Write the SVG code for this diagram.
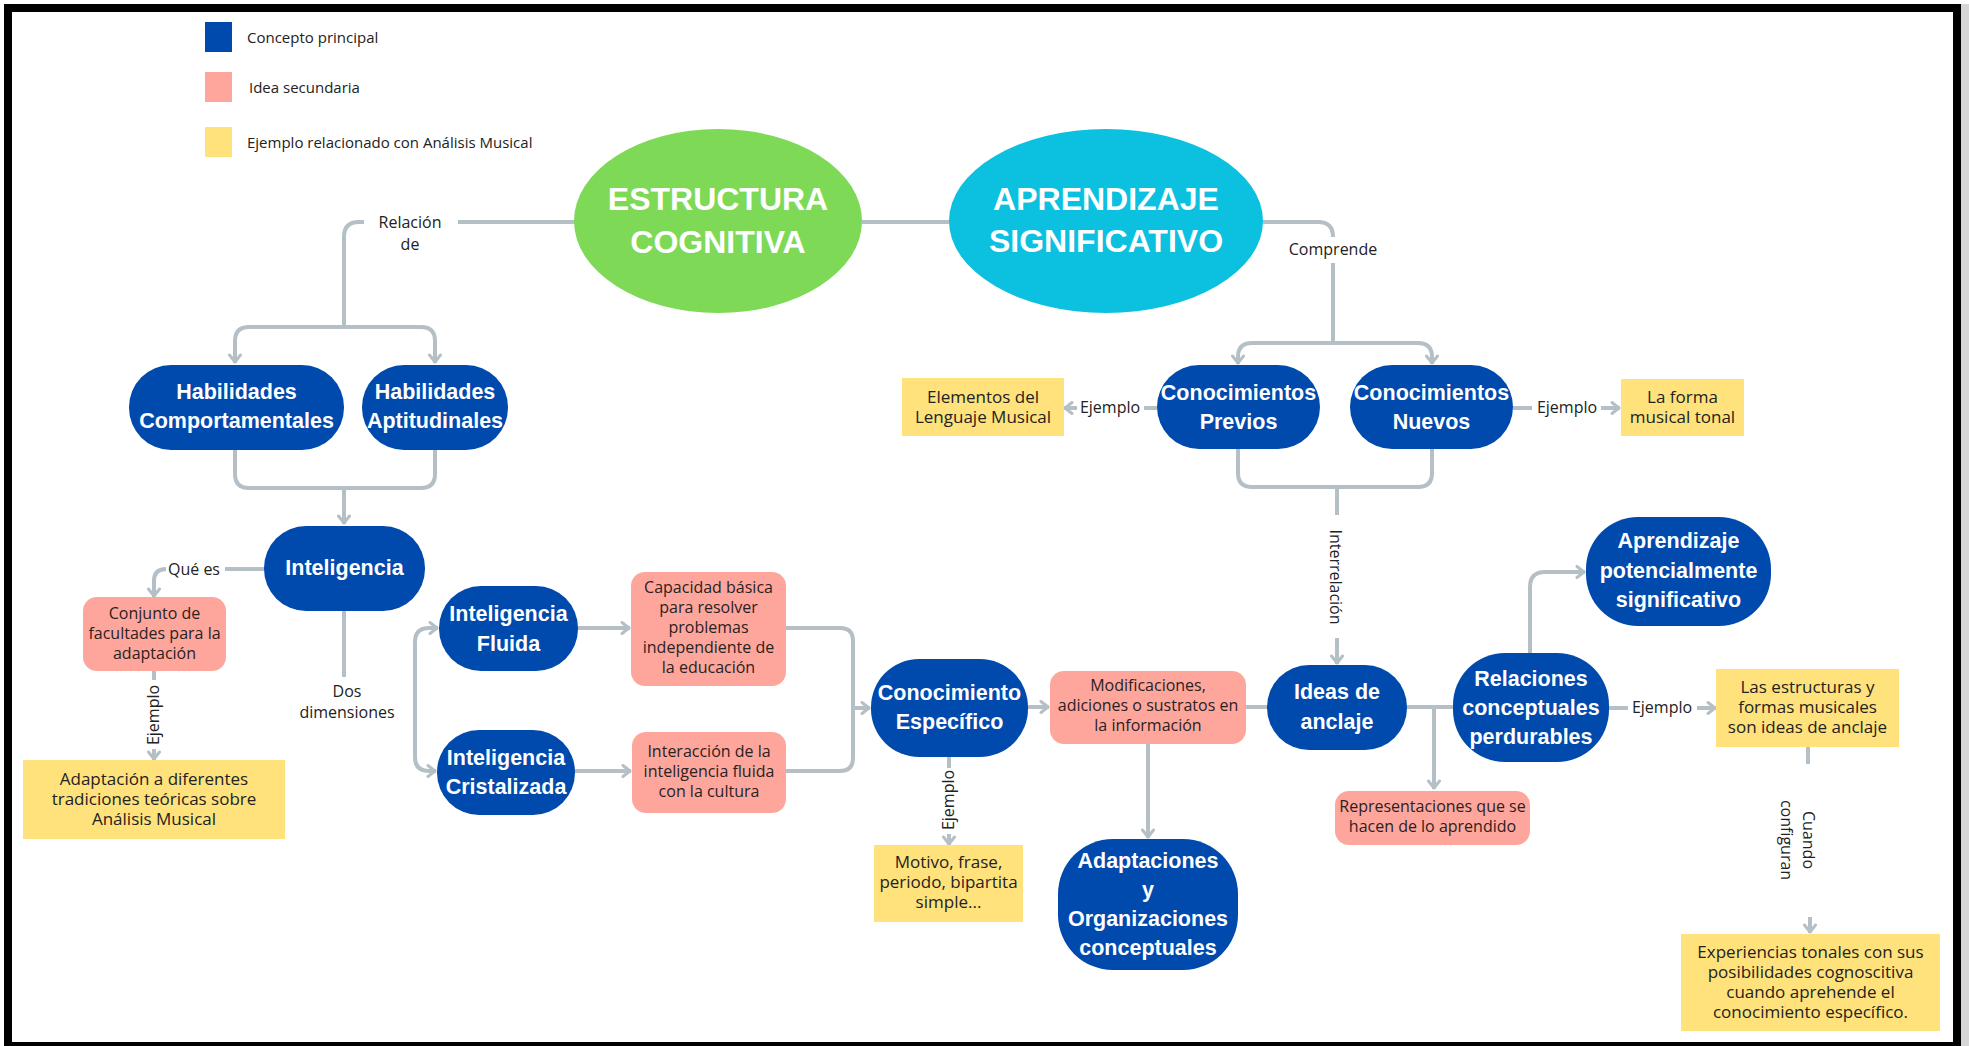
<svg xmlns="http://www.w3.org/2000/svg" width="1969" height="1046" viewBox="0 0 1969 1046">
  <defs>
    <style>
      .main { fill: #004AAD; }
      .sec { fill: #FFA69C; }
      .ex { fill: #FFE27B; }
      .nt { font-family: "Liberation Sans", Arial, sans-serif; font-weight: bold; font-size: 21.5px; fill: #FFFFFF; text-anchor: middle; }
      .big { font-family: "Liberation Sans", Arial, sans-serif; font-weight: bold; font-size: 32px; fill: #FFFFFF; text-anchor: middle; }
      .st { font-family: "Open Sans", "Noto Sans", sans-serif; font-size: 16px; fill: #2A2222; text-anchor: middle; }
      .et { font-family: "Open Sans", "Noto Sans", sans-serif; font-size: 17px; fill: #222222; text-anchor: middle; }
      .lbl { font-family: "Open Sans", "Noto Sans", sans-serif; font-size: 16px; fill: #222222; text-anchor: middle; }
      .leg { font-family: "Open Sans", "Noto Sans", sans-serif; font-size: 15px; fill: #222222; }
      .ln { fill: none; stroke: #B5C0C6; stroke-width: 4; }
      .ar { marker-end: url(#arr); }
    </style>
    <marker id="arr" viewBox="0 0 14 14" refX="12" refY="7" markerWidth="14" markerHeight="14" markerUnits="userSpaceOnUse" orient="auto">
      <path d="M4,1.5 L11,7 L4,12.5" fill="none" stroke="#B5C0C6" stroke-width="3" stroke-linecap="round" stroke-linejoin="round"/>
    </marker>
  </defs>

  <!-- page background and frame -->
  <rect x="0" y="0" width="1969" height="1046" fill="#FFFFFF"/>
  <rect x="1961" y="4" width="8" height="1042" fill="#D6D6D6"/>
  <rect x="8" y="8" width="1949" height="1038" fill="none" stroke="#000000" stroke-width="8"/>

  <!-- legend -->
  <g id="legend">
    <rect x="205" y="22" width="27" height="30" class="main"/>
    <text x="247" y="43" class="leg">Concepto principal</text>
    <rect x="205" y="72" width="27" height="30" class="sec"/>
    <text x="249" y="93" class="leg">Idea secundaria</text>
    <rect x="205" y="127" width="27" height="30" class="ex"/>
    <text x="247" y="148" class="leg">Ejemplo relacionado con Análisis Musical</text>
  </g>

  <!-- connectors -->
  <g id="connectors">
    <!-- Estructura cognitiva / Aprendizaje significativo -->
    <path class="ln" d="M862 222 H949"/>
    <path class="ln" d="M575 222 H458"/>
    <path class="ln" d="M364 222 H359 Q344 222 344 237 V327"/>
    <path class="ln ar" d="M344 327 H249 Q235 327 235 341 V363"/>
    <path class="ln ar" d="M344 327 H421 Q435 327 435 341 V363"/>
    <path class="ln" d="M235 450 V474 Q235 488 249 488 H421 Q435 488 435 474 V450"/>
    <path class="ln ar" d="M344 488 V524"/>

    <!-- Inteligencia -->
    <path class="ln" d="M264 569 H225"/>
    <path class="ln ar" d="M166 569 Q154 569 154 581 V597"/>
    <path class="ln" d="M154 671 V680"/>
    <path class="ln ar" d="M154 749 V760"/>
    <path class="ln" d="M344 611 V677"/>
    <path class="ln ar" d="M415 700 V642 Q415 628 429 628 H438"/>
    <path class="ln ar" d="M415 700 V757 Q415 771 429 771 H436"/>
    <path class="ln ar" d="M578 628 H630"/>
    <path class="ln ar" d="M575 771 H631"/>
    <path class="ln" d="M786 628 H840 Q853 628 853 641 V758 Q853 771 840 771 H786"/>
    <path class="ln ar" d="M853 708 H870"/>

    <!-- Conocimiento especifico -->
    <path class="ln" d="M949 757 V768"/>
    <path class="ln ar" d="M949 834 V845"/>
    <path class="ln ar" d="M1028 707 H1049"/>
    <path class="ln ar" d="M1148 744 V838"/>
    <path class="ln" d="M1246 707 H1268"/>

    <!-- Comprende -->
    <path class="ln" d="M1263 222 H1318 Q1333 222 1333 237"/>
    <path class="ln" d="M1333 263 V343"/>
    <path class="ln ar" d="M1333 343 H1252 Q1238 343 1238 357 V364"/>
    <path class="ln ar" d="M1333 343 H1418 Q1432 343 1432 357 V364"/>
    <path class="ln" d="M1157 408 H1144"/>
    <path class="ln ar" d="M1077 408 H1064"/>
    <path class="ln" d="M1513 408 H1532"/>
    <path class="ln ar" d="M1601 408 H1620"/>
    <path class="ln" d="M1238 449 V473 Q1238 487 1252 487 H1418 Q1432 487 1432 473 V449"/>
    <path class="ln" d="M1337 487 V515"/>
    <path class="ln ar" d="M1337 638 V664"/>

    <!-- Ideas de anclaje / Relaciones -->
    <path class="ln" d="M1407 707 H1454"/>
    <path class="ln ar" d="M1434 707 V789"/>
    <path class="ln ar" d="M1530 653 V587 Q1530 572 1545 572 H1585"/>
    <path class="ln" d="M1609 708 H1628"/>
    <path class="ln ar" d="M1697 708 H1716"/>
    <path class="ln" d="M1808 747 V764"/>
    <path class="ln ar" d="M1810 917 V933"/>
  </g>

  <!-- connector labels -->
  <g id="labels">
    <text x="410" y="228" class="lbl">Relación</text>
    <text x="410" y="250" class="lbl">de</text>
    <text x="1333" y="255" class="lbl">Comprende</text>
    <text x="194" y="575" class="lbl">Qué es</text>
    <text x="347" y="697" class="lbl">Dos</text>
    <text x="347" y="718" class="lbl">dimensiones</text>
    <text transform="translate(154,715) rotate(-90)" x="0" y="4.5" class="lbl">Ejemplo</text>
    <text transform="translate(949,800) rotate(-90)" x="0" y="4.5" class="lbl">Ejemplo</text>
    <text x="1110" y="413" class="lbl">Ejemplo</text>
    <text x="1567" y="413" class="lbl">Ejemplo</text>
    <text x="1662" y="713" class="lbl">Ejemplo</text>
    <text transform="translate(1337,577) rotate(90)" x="0" y="7" class="lbl">Interrelación</text>
    <text transform="translate(1792,840) rotate(90)" x="0" y="-11" class="lbl">Cuando</text>
    <text transform="translate(1792,840) rotate(90)" x="0" y="11" class="lbl">configuran</text>
  </g>

  <!-- nodes -->
  <g id="estructura-cognitiva">
    <ellipse cx="718" cy="221" rx="144" ry="92" fill="#7ED957"/>
    <text x="718" y="210" class="big">ESTRUCTURA</text>
    <text x="718" y="253" class="big">COGNITIVA</text>
  </g>
  <g id="aprendizaje-significativo">
    <ellipse cx="1106" cy="221" rx="157" ry="92" fill="#0CC0DF"/>
    <text x="1106" y="210" class="big">APRENDIZAJE</text>
    <text x="1106" y="252" class="big">SIGNIFICATIVO</text>
  </g>

  <g id="habilidades-comportamentales">
    <rect x="129" y="365" width="215" height="85" rx="42" class="main"/>
    <text x="236.5" y="399" class="nt">Habilidades</text>
    <text x="236.5" y="428" class="nt">Comportamentales</text>
  </g>
  <g id="habilidades-aptitudinales">
    <rect x="362" y="365" width="146" height="85" rx="42" class="main"/>
    <text x="435" y="399" class="nt">Habilidades</text>
    <text x="435" y="428" class="nt">Aptitudinales</text>
  </g>

  <g id="inteligencia">
    <rect x="264" y="526" width="161" height="85" rx="42" class="main"/>
    <text x="344.5" y="575" class="nt">Inteligencia</text>
  </g>
  <g id="conjunto-facultades">
    <rect x="83" y="597" width="143" height="74" rx="14" class="sec"/>
    <text x="154.5" y="619" class="st">Conjunto de</text>
    <text x="154.5" y="639" class="st">facultades para la</text>
    <text x="154.5" y="659" class="st">adaptación</text>
  </g>
  <g id="adaptacion-tradiciones">
    <rect x="23" y="760" width="262" height="79" class="ex"/>
    <text x="154" y="785" class="et">Adaptación a diferentes</text>
    <text x="154" y="805" class="et">tradiciones teóricas sobre</text>
    <text x="154" y="825" class="et">Análisis Musical</text>
  </g>

  <g id="inteligencia-fluida">
    <rect x="439" y="586" width="139" height="85" rx="42" class="main"/>
    <text x="508.5" y="621" class="nt">Inteligencia</text>
    <text x="508.5" y="651" class="nt">Fluida</text>
  </g>
  <g id="inteligencia-cristalizada">
    <rect x="437" y="730" width="138" height="85" rx="42" class="main"/>
    <text x="506" y="765" class="nt">Inteligencia</text>
    <text x="506" y="794" class="nt">Cristalizada</text>
  </g>
  <g id="capacidad-basica">
    <rect x="631" y="572" width="155" height="114" rx="14" class="sec"/>
    <text x="708.5" y="593" class="st">Capacidad básica</text>
    <text x="708.5" y="613" class="st">para resolver</text>
    <text x="708.5" y="633" class="st">problemas</text>
    <text x="708.5" y="653" class="st">independiente de</text>
    <text x="708.5" y="673" class="st">la educación</text>
  </g>
  <g id="interaccion-cultura">
    <rect x="632" y="732" width="154" height="81" rx="14" class="sec"/>
    <text x="709" y="757" class="st">Interacción de la</text>
    <text x="709" y="777" class="st">inteligencia fluida</text>
    <text x="709" y="797" class="st">con la cultura</text>
  </g>

  <g id="conocimiento-especifico">
    <rect x="871" y="659" width="157" height="98" rx="48" class="main"/>
    <text x="949.5" y="700" class="nt">Conocimiento</text>
    <text x="949.5" y="729" class="nt">Específico</text>
  </g>
  <g id="motivo-frase">
    <rect x="874" y="845" width="149" height="77" class="ex"/>
    <text x="948.5" y="868" class="et">Motivo, frase,</text>
    <text x="948.5" y="888" class="et">periodo, bipartita</text>
    <text x="948.5" y="908" class="et">simple...</text>
  </g>
  <g id="modificaciones">
    <rect x="1050" y="671" width="196" height="73" rx="14" class="sec"/>
    <text x="1148" y="691" class="st">Modificaciones,</text>
    <text x="1148" y="711" class="st">adiciones o sustratos en</text>
    <text x="1148" y="731" class="st">la información</text>
  </g>
  <g id="adaptaciones-organizaciones">
    <rect x="1058" y="839" width="180" height="131" rx="55" class="main"/>
    <text x="1148" y="868" class="nt">Adaptaciones</text>
    <text x="1148" y="897" class="nt">y</text>
    <text x="1148" y="926" class="nt">Organizaciones</text>
    <text x="1148" y="955" class="nt">conceptuales</text>
  </g>

  <g id="conocimientos-previos">
    <rect x="1157" y="365" width="163" height="84" rx="42" class="main"/>
    <text x="1238.5" y="400" class="nt">Conocimientos</text>
    <text x="1238.5" y="429" class="nt">Previos</text>
  </g>
  <g id="conocimientos-nuevos">
    <rect x="1350" y="365" width="163" height="84" rx="42" class="main"/>
    <text x="1431.5" y="400" class="nt">Conocimientos</text>
    <text x="1431.5" y="429" class="nt">Nuevos</text>
  </g>
  <g id="elementos-lenguaje">
    <rect x="902" y="378" width="162" height="58" class="ex"/>
    <text x="983" y="403" class="et">Elementos del</text>
    <text x="983" y="423" class="et">Lenguaje Musical</text>
  </g>
  <g id="forma-tonal">
    <rect x="1621" y="379" width="123" height="57" class="ex"/>
    <text x="1682.5" y="403" class="et">La forma</text>
    <text x="1682.5" y="423" class="et">musical tonal</text>
  </g>

  <g id="ideas-anclaje">
    <rect x="1267" y="665" width="140" height="85" rx="42" class="main"/>
    <text x="1337" y="699" class="nt">Ideas de</text>
    <text x="1337" y="729" class="nt">anclaje</text>
  </g>
  <g id="representaciones">
    <rect x="1335" y="791" width="195" height="54" rx="14" class="sec"/>
    <text x="1432.5" y="812" class="st">Representaciones que se</text>
    <text x="1432.5" y="832" class="st">hacen de lo aprendido</text>
  </g>
  <g id="relaciones-conceptuales">
    <rect x="1453" y="653" width="156" height="109" rx="52" class="main"/>
    <text x="1531" y="686" class="nt">Relaciones</text>
    <text x="1531" y="715" class="nt">conceptuales</text>
    <text x="1531" y="744" class="nt">perdurables</text>
  </g>
  <g id="aprendizaje-potencial">
    <rect x="1586" y="517" width="185" height="109" rx="52" class="main"/>
    <text x="1678.5" y="548" class="nt">Aprendizaje</text>
    <text x="1678.5" y="578" class="nt">potencialmente</text>
    <text x="1678.5" y="607" class="nt">significativo</text>
  </g>
  <g id="estructuras-formas">
    <rect x="1716" y="669" width="183" height="78" class="ex"/>
    <text x="1807.5" y="693" class="et">Las estructuras y</text>
    <text x="1807.5" y="713" class="et">formas musicales</text>
    <text x="1807.5" y="733" class="et">son ideas de anclaje</text>
  </g>
  <g id="experiencias-tonales">
    <rect x="1681" y="934" width="259" height="97" class="ex"/>
    <text x="1810.5" y="958" class="et">Experiencias tonales con sus</text>
    <text x="1810.5" y="978" class="et">posibilidades cognoscitiva</text>
    <text x="1810.5" y="998" class="et">cuando aprehende el</text>
    <text x="1810.5" y="1018" class="et">conocimiento específico.</text>
  </g>
</svg>
